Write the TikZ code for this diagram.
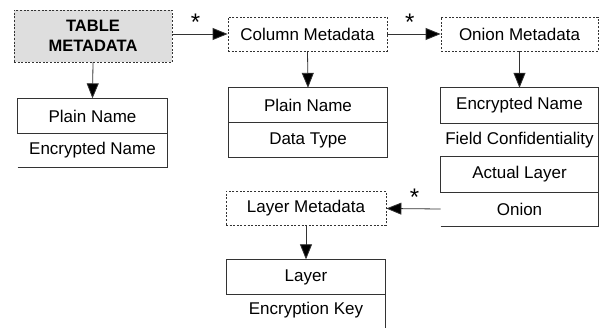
\documentclass[tikz,border=0pt]{standalone}
\usepackage{fontspec}
\setmainfont{Liberation Sans}
\usetikzlibrary{arrows.meta}

\tikzset{
	metabox/.style={draw=black!80, dash pattern=on 2pt off 1.6pt, minimum height=34pt, inner sep=0pt},
	fieldrow/.style={minimum width=158pt, minimum height=34.5pt, inner sep=0pt},
	conn/.style={thick, draw=black!80, -{Triangle[length=15pt,width=12pt,fill=black]}},
	star/.style={font=\fontsize{24}{24}\selectfont, inner sep=0pt, yshift=3pt}
}

\begin{document}
	\begin{tikzpicture}[x=1pt, y=-1pt, font=\fontsize{17}{20}\selectfont, line width=0.8pt]
			\useasboundingbox (0,0) rectangle (599,328);
			
			\node[metabox, fill=black!13, minimum width=158pt, minimum height=52pt, align=center, font=\fontsize{16.5}{20}\selectfont\bfseries] (table) at (93,36) {TABLE\\METADATA};
			\node[metabox, minimum width=159pt] (column) at (307.5,34) {Column Metadata};
			\node[metabox, minimum width=157pt] (onion) at (519.5,34) {Onion Metadata};
			\node[metabox, minimum width=160pt] (layer) at (306,208.5) {Layer Metadata};
			
			\path
			(92.5,116) node[fieldrow, minimum width=149pt](tplain){Plain Name}
			(92.5,150) node[fieldrow, minimum width=149pt](tenc){Encrypted Name}
			(308,105.5) node[fieldrow](cplain){Plain Name}
			(308,140) node[fieldrow](ctype){Data Type}
			(519.5,105.5) node[fieldrow, minimum width=157pt](oenc){Encrypted Name}
			(519.5,140) node[fieldrow, minimum width=157pt](ofield){Field Confidentiality}
			(519.5,174.5) node[fieldrow, minimum width=157pt](oactual){Actual Layer}
			(519.5,209) node[fieldrow, minimum width=157pt](oonion){Onion}
			(306,277) node[fieldrow](lname){Layer}
			(306,310.5) node[fieldrow](lkey){Encryption Key};
			
			% rows with a left side
			\draw[black!80] (tplain.south west) rectangle (tplain.north east);
			\draw[black!80] (cplain.north west) rectangle (ctype.south east) (ctype.north west) -- (ctype.north east);
			\draw[black!80] (oenc.south west) rectangle (oenc.north east);
			\draw[black!80] (oactual.south west) rectangle (oactual.north east);
			\draw[black!80] (lname.south west) rectangle (lname.north east);
			% rows open on the left
			\draw[black!80] (tenc.south west) -- (tenc.south east) -- (tenc.north east);
			\draw[black!80] (ofield.north east) -- (ofield.south east);
			\draw[black!80] (oonion.south west) -- (oonion.south east) -- (oonion.north east);
			\draw[black!80] (lkey.south west) -- (lkey.south east) -- (lkey.north east);
			
			\draw[conn] (table.east |- column.west) --node[star, above, pos=0.42]{*} (column.west);
			\draw[conn] (column.east) --node[star, above, pos=0.42]{*} (onion.west);
			\draw[conn] (oonion.west) --node[star, above, pos=0.48]{*} (layer.east);
			
			\draw[conn] (table.south) -- (tplain.north);
			\draw[conn] (column.south) -- (cplain.north);
			\draw[conn] (onion.south) -- (oenc.north);
			\draw[conn] (layer.south) -- (lname.north);
			
		\end{tikzpicture}
\end{document}
